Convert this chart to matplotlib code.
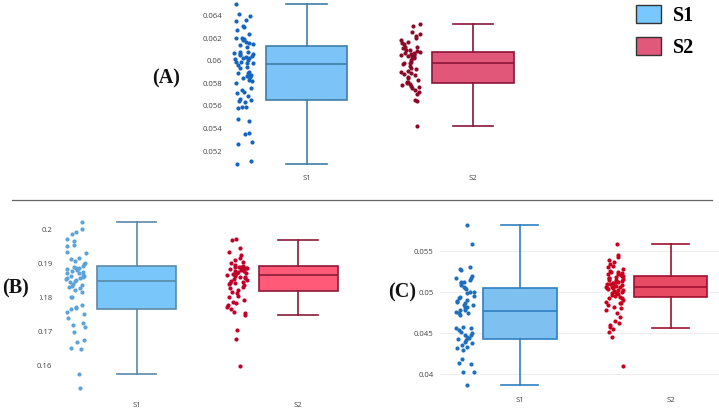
import numpy as np
import matplotlib
matplotlib.use('Agg')
import matplotlib.pyplot as plt
from matplotlib.patches import Patch

W, H = 719, 409
categories = ['S1', 'S2']

# ---------------- data ----------------
A_s1_points = [0.06507, 0.06415, 0.06400, 0.06364, 0.06359, 0.06314, 0.06305, 0.06276, 0.06237, 0.06207,
               0.06201, 0.06193, 0.06187, 0.06172, 0.06160, 0.06148, 0.06142, 0.06127, 0.06083, 0.06077,
               0.06068, 0.06062, 0.06059, 0.06053, 0.06044, 0.06039, 0.06030, 0.06024, 0.06015, 0.06009,
               0.05994, 0.05990, 0.05985, 0.05979, 0.05964, 0.05950, 0.05935, 0.05905, 0.05896, 0.05890,
               0.05876, 0.05870, 0.05867, 0.05855, 0.05846, 0.05831, 0.05822, 0.05800, 0.05757, 0.05742,
               0.05727, 0.05713, 0.05692, 0.05660, 0.05653, 0.05647, 0.05639, 0.05594, 0.05588, 0.05579,
               0.05481, 0.05470, 0.05357, 0.05351, 0.05283, 0.05259, 0.05111, 0.05081]
A_s2_points = [0.06326, 0.06311, 0.06261, 0.06237, 0.06222, 0.06207, 0.06187, 0.06172, 0.06157, 0.06148,
               0.06127, 0.06120, 0.06113, 0.06100, 0.06098, 0.06092, 0.06083, 0.06074, 0.06068, 0.06065,
               0.06059, 0.06053, 0.06050, 0.06044, 0.06039, 0.06035, 0.06024, 0.06009, 0.05994, 0.05985,
               0.05980, 0.05973, 0.05956, 0.05935, 0.05926, 0.05914, 0.05900, 0.05896, 0.05884, 0.05876,
               0.05861, 0.05846, 0.05831, 0.05816, 0.05810, 0.05807, 0.05796, 0.05787, 0.05778, 0.05766,
               0.05757, 0.05742, 0.05727, 0.05707, 0.05653, 0.05644, 0.05422]
B_s1_points = [0.20195, 0.19990, 0.19922, 0.19844, 0.19698, 0.19659, 0.19532, 0.19502, 0.19327, 0.19288,
               0.19141, 0.19112, 0.19073, 0.19015, 0.18976, 0.18917, 0.18878, 0.18860, 0.18849, 0.18820,
               0.18800, 0.18771, 0.18751, 0.18702, 0.18700, 0.18654, 0.18624, 0.18620, 0.18585, 0.18560,
               0.18556, 0.18527, 0.18507, 0.18480, 0.18459, 0.18390, 0.18361, 0.18330, 0.18312, 0.18263,
               0.18215, 0.18166, 0.18020, 0.18000, 0.17776, 0.17727, 0.17678, 0.17649, 0.17580, 0.17512,
               0.17385, 0.17239, 0.17190, 0.17141, 0.16995, 0.16751, 0.16702, 0.16507, 0.16478, 0.15746,
               0.15337]
B_s2_points = [0.19698, 0.19678, 0.19434, 0.19337, 0.19239, 0.19141, 0.19093, 0.19044, 0.18995, 0.18946,
               0.18917, 0.18900, 0.18898, 0.18878, 0.18870, 0.18860, 0.18849, 0.18830, 0.18820, 0.18800,
               0.18780, 0.18780, 0.18751, 0.18722, 0.18702, 0.18690, 0.18654, 0.18640, 0.18624, 0.18600,
               0.18585, 0.18556, 0.18527, 0.18500, 0.18488, 0.18459, 0.18429, 0.18420, 0.18390, 0.18361,
               0.18312, 0.18263, 0.18215, 0.18166, 0.18117, 0.18039, 0.18000, 0.17922, 0.17873, 0.17824,
               0.17776, 0.17727, 0.17649, 0.17580, 0.17532, 0.17483, 0.17044, 0.16790, 0.15990]
C_s1_points = [0.05821, 0.05585, 0.05305, 0.05280, 0.05272, 0.05199, 0.05180, 0.05171, 0.05150, 0.05130,
               0.05120, 0.05110, 0.05089, 0.05069, 0.05057, 0.05037, 0.05008, 0.05000, 0.04988, 0.04950,
               0.04947, 0.04927, 0.04907, 0.04900, 0.04886, 0.04866, 0.04850, 0.04846, 0.04825, 0.04805,
               0.04790, 0.04785, 0.04764, 0.04750, 0.04744, 0.04724, 0.04581, 0.04561, 0.04560, 0.04541,
               0.04520, 0.04500, 0.04480, 0.04480, 0.04459, 0.04439, 0.04430, 0.04419, 0.04398, 0.04378,
               0.04358, 0.04337, 0.04317, 0.04297, 0.04183, 0.04134, 0.04126, 0.04033, 0.04024, 0.03866]
C_s2_points = [0.05585, 0.05455, 0.05435, 0.05394, 0.05374, 0.05346, 0.05321, 0.05305, 0.05280, 0.05264,
               0.05252, 0.05250, 0.05240, 0.05224, 0.05220, 0.05211, 0.05200, 0.05199, 0.05183, 0.05180,
               0.05171, 0.05159, 0.05150, 0.05150, 0.05142, 0.05130, 0.05120, 0.05118, 0.05110, 0.05102,
               0.05100, 0.05089, 0.05080, 0.05077, 0.05069, 0.05061, 0.05060, 0.05050, 0.05049, 0.05037,
               0.05030, 0.05028, 0.05016, 0.05008, 0.05000, 0.04996, 0.04988, 0.04980, 0.04967, 0.04955,
               0.04947, 0.04930, 0.04927, 0.04907, 0.04886, 0.04870, 0.04866, 0.04846, 0.04825, 0.04805,
               0.04785, 0.04744, 0.04703, 0.04654, 0.04622, 0.04602, 0.04573, 0.04549, 0.04520, 0.04459,
               0.04106]

# box statistics: [lower whisker, q1, median, q3, upper whisker]
A_s1_box = [0.05082, 0.05653, 0.05971, 0.06133, 0.06507]
A_s2_box = [0.05422, 0.05807, 0.05985, 0.06083, 0.06326]
B_s1_box = [0.15748, 0.17650, 0.18478, 0.18917, 0.20196]
B_s2_box = [0.17483, 0.18177, 0.18645, 0.18908, 0.19687]
C_s1_box = [0.03866, 0.04434, 0.04776, 0.05056, 0.05821]
C_s2_box = [0.04568, 0.04943, 0.05068, 0.05202, 0.05585]

A_yticks = [0.052, 0.054, 0.056, 0.058, 0.060, 0.062, 0.064]
A_yticklabels = ['0.052', '0.054', '0.056', '0.058', '0.06', '0.062', '0.064']
B_yticks = [0.16, 0.17, 0.18, 0.19, 0.20]
B_yticklabels = ['0.16', '0.17', '0.18', '0.19', '0.2']
C_yticks = [0.040, 0.045, 0.050, 0.055]
C_yticklabels = ['0.04', '0.045', '0.05', '0.055']

panel_labels = ['(A)', '(B)', '(C)']
legend_labels = ['S1', 'S2']

# ---------------- drawing ----------------
fig = plt.figure(figsize=(W / 100, H / 100), dpi=100)
fig.patch.set_facecolor('white')


def px_axes(l, t, r, b):
    return fig.add_axes([l / W, 1 - b / H, (r - l) / W, (b - t) / H])


def panel(ax, pts, boxes, yticks, yticklabels, xlim, ylim, fills, edges, dotcols,
          offsets, seed, grid=False, tickpad=2.0):
    rng = np.random.default_rng(seed)
    stats = []
    for i, (b, lab) in enumerate(zip(boxes, categories)):
        stats.append(dict(whislo=b[0], q1=b[1], med=b[2], q3=b[3], whishi=b[4],
                          fliers=[], label=lab))
    for i in range(2):
        ax.bxp([stats[i]], positions=[i], widths=0.49, capwidths=0.245,
               patch_artist=True, showfliers=False, manage_ticks=False,
               boxprops=dict(facecolor=fills[i], edgecolor=edges[i], linewidth=1.2),
               medianprops=dict(color=edges[i], linewidth=1.2),
               whiskerprops=dict(color=edges[i], linewidth=1.2),
               capprops=dict(color=edges[i], linewidth=1.2))
        y = np.asarray(pts[i])
        x = i + offsets[i] + rng.uniform(-0.06, 0.06, len(y))
        ax.scatter(x, y, s=9, color=dotcols[i], linewidths=0, zorder=3)
    ax.set_xlim(*xlim)
    ax.set_ylim(*ylim)
    ax.set_xticks([0, 1])
    ax.set_xticklabels(categories, fontsize=5.6, color='#444444', family='Open Sans')
    ax.set_yticks(yticks)
    ax.set_yticklabels(yticklabels, fontsize=5.6, color='#444444', family='Open Sans')
    ax.tick_params(axis='both', length=0)
    ax.tick_params(axis='x', pad=5)
    ax.tick_params(axis='y', pad=tickpad)
    for s in ax.spines.values():
        s.set_visible(False)
    if grid:
        ax.yaxis.grid(True, color='#eeeeee', linewidth=0.8)
        ax.set_axisbelow(True)


# Panel A
axA = px_axes(225, 0, 555, 168)
panel(axA, [A_s1_points, A_s2_points], [A_s1_box, A_s2_box], A_yticks, A_yticklabels,
      (-0.491, 1.493), (0.05049, 0.06542),
      fills=['#7cc4f8', '#e0577a'], edges=['#3f7fa8', '#8a1538'],
      dotcols=['#1565c0', '#8b0a28'], offsets=[-0.377, -0.377], seed=3, tickpad=2.0)

# Panel B
axB = px_axes(58, 215, 360, 395)
panel(axB, [B_s1_points, B_s2_points], [B_s1_box, B_s2_box], B_yticks, B_yticklabels,
      (-0.487, 1.382), (0.15142, 0.2041),
      fills=['#78c6fa', '#ff5a78'], edges=['#5a8aa8', '#8b1a3a'],
      dotcols=['#5ba3d9', '#c0002a'], offsets=[-0.376, -0.379], seed=5, tickpad=4.0)

# Panel C
axC = px_axes(440, 215, 719, 390)
panel(axC, [C_s1_points, C_s2_points], [C_s1_box, C_s2_box], C_yticks, C_yticklabels,
      (-0.5285, 1.3216), (0.03809, 0.05943),
      fills=['#7ec0ef', '#e84a64'], edges=['#2f80c0', '#a01030'],
      dotcols=['#1e6fc0', '#c8001e'], offsets=[-0.363, -0.368], seed=7, grid=True, tickpad=4.5)

# separator line
fig.add_artist(plt.Line2D([12 / W, 712 / W], [1 - 200 / H, 1 - 200 / H],
                          color='#666666', linewidth=0.9))

# panel labels
serif = dict(family='Liberation Serif', fontweight='bold', fontsize=14.5, color='#111111')
fig.text(152 / W, 1 - 78 / H, panel_labels[0], ha='left', va='center', **serif)
fig.text(2 / W, 1 - 288 / H, panel_labels[1], ha='left', va='center',
         bbox=dict(facecolor='white', edgecolor='none', boxstyle='square,pad=0.55'), **serif)
fig.text(388 / W, 1 - 292 / H, panel_labels[2], ha='left', va='center', **serif)

# legend
handles = [Patch(facecolor='#78c8ff', edgecolor='#333333', linewidth=1.0),
           Patch(facecolor='#e0587a', edgecolor='#333333', linewidth=1.0)]
fig.legend(handles, legend_labels, loc='upper left', bbox_to_anchor=(626 / W, 1 + 5 / H),
           frameon=False, borderpad=0, handlelength=1.25, handleheight=0.96,
           labelspacing=0.56, handletextpad=0.58,
           prop=dict(family='Liberation Serif', weight='bold', size=14.5))

fig.savefig('out.png', dpi=100, facecolor='white')
